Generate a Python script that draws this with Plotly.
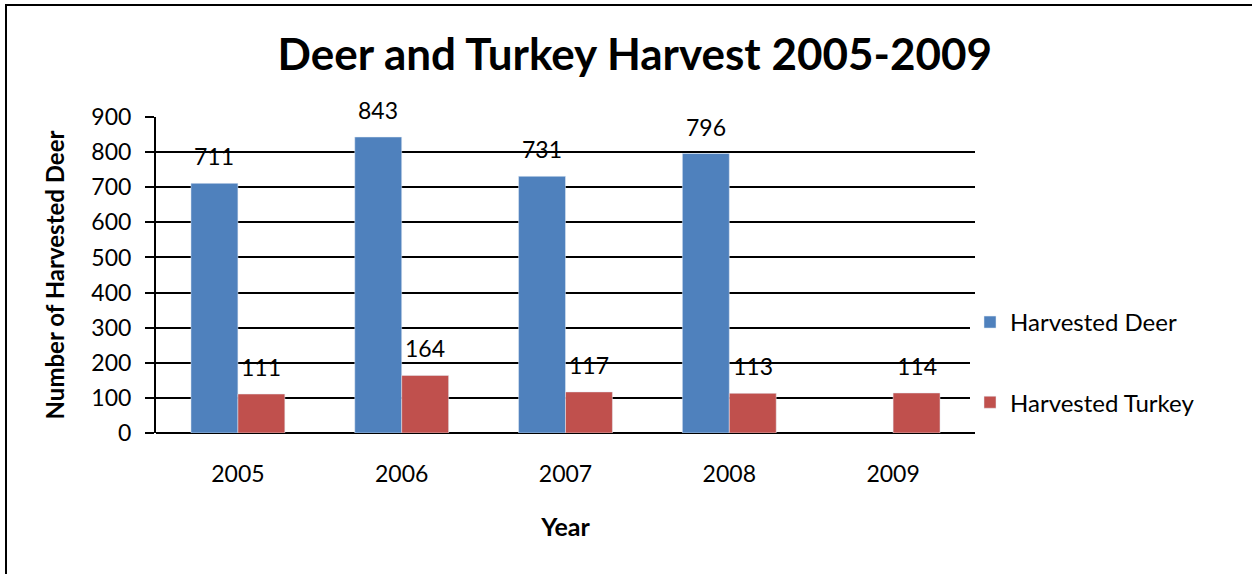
import plotly.graph_objects as go

years = ["2005", "2006", "2007", "2008", "2009"]
deer = [711, 843, 731, 796, None]
turkey = [111, 164, 117, 113, 114]
y_ticks = [0, 100, 200, 300, 400, 500, 600, 700, 800, 900]

W, H = 1252, 574
L, R, T, B = 156, 277, 117, 141
pw, ph = W - L - R, H - T - B

FONT = "Lato"
DEER_C = "#4F81BD"
TURK_C = "#C0504D"

fig = go.Figure()
fig.add_trace(go.Bar(x=years, y=deer, name="Harvested Deer", marker_color=DEER_C,
                     legendgroup="d"))
fig.add_trace(go.Bar(x=years, y=turkey, name="Harvested Turkey", marker_color=TURK_C,
                     legendgroup="t"))

bargap = 0.427
bar_px = (1 - bargap) / 2 * pw / len(years)
annotations = []
for series, sign in ((deer, -1), (turkey, 1)):
    for i, v in enumerate(series):
        if v is None:
            continue
        # category axis: position annotations by category index
        annotations.append(dict(x=i, y=v, xref="x", yref="y", text=str(v),
                                showarrow=False, xshift=sign * bar_px / 2, yshift=27,
                                yanchor="middle", font=dict(family=FONT, size=23, color="black")))

fig.update_layout(
    width=W, height=H,
    margin=dict(l=L, r=R, t=T, b=B),
    paper_bgcolor="white", plot_bgcolor="white",
    barmode="group", bargap=bargap, bargroupgap=0,
    title=dict(text="<b>Deer and Turkey Harvest 2005-2009</b>", x=0.507, xanchor="center",
               y=1 - 55 / H, yanchor="middle",
               font=dict(family=FONT, size=44, color="black")),
    font=dict(family=FONT, size=23, color="black"),
    showlegend=True,
    legend=dict(x=(970 - L) / pw, xanchor="left", y=1 - (323 - T) / ph + 0.073, yanchor="top",
                tracegroupgap=46, traceorder="grouped",
                font=dict(family=FONT, size=24, color="black")),
    annotations=annotations,
    xaxis=dict(type="category", range=[-0.5, len(years) - 0.5], showline=False,
               ticks="outside", ticklen=20, tickcolor="rgba(0,0,0,0)",
               title=dict(text="<b>Year</b>", standoff=32,
                          font=dict(family=FONT, size=25, color="black"))),
    yaxis=dict(range=[0, 900], tickvals=y_ticks, ticklabelstandoff=9,
               showgrid=True, gridcolor="black", gridwidth=1.5,
               showline=True, linecolor="black", linewidth=2, ticks="outside", ticklen=9,
               tickcolor="black", tickwidth=1.5, zeroline=True,
               zerolinecolor="black", zerolinewidth=2,
               title=dict(text="<b>Number of Harvested Deer</b>", standoff=20,
                          font=dict(family=FONT, size=24, color="black"))),
    shapes=[dict(type="rect", xref="paper", yref="paper",
                 x0=(6 - L) / pw, x1=(W + 20 - L) / pw,
                 y0=-(H + 20 - T - ph) / ph, y1=1 + (T - 5) / ph,
                 line=dict(color="black", width=2), fillcolor="rgba(0,0,0,0)")],
)

fig.write_html("out.html")
